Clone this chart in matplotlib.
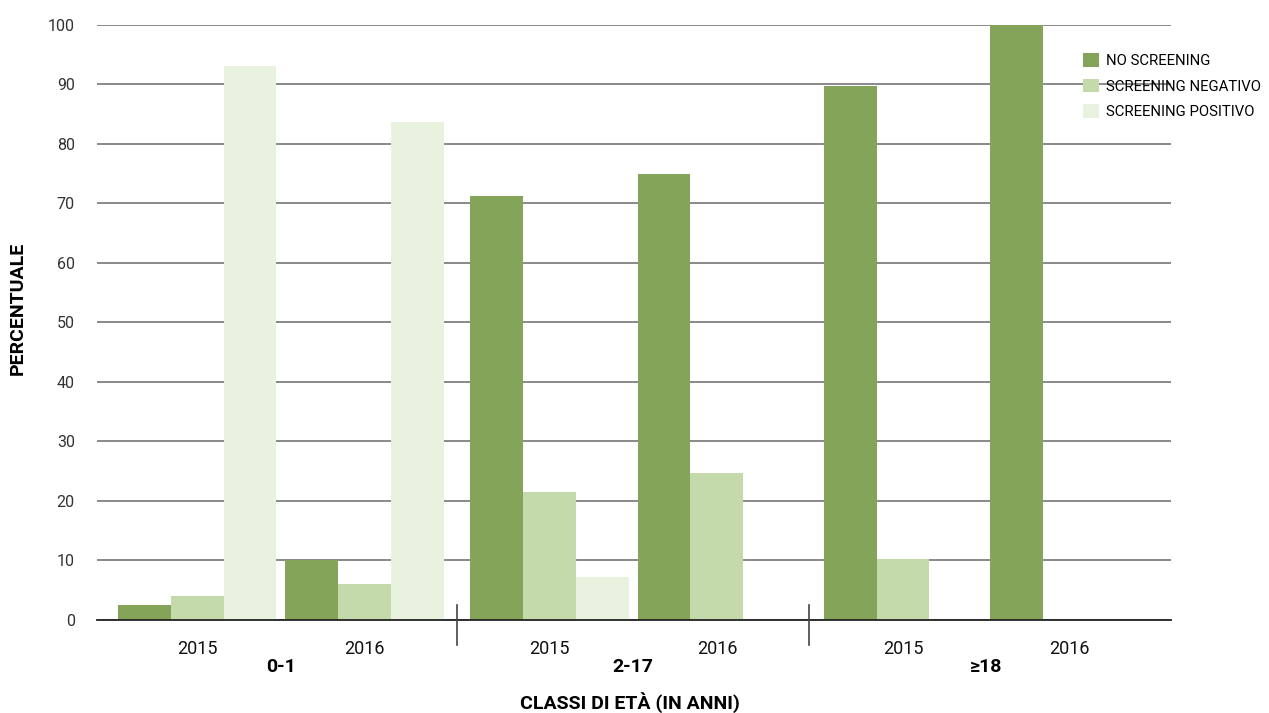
import matplotlib
matplotlib.use('Agg')
import matplotlib.pyplot as plt
from matplotlib.patches import Patch

plt.rcParams['font.family'] = ['Roboto', 'DejaVu Sans']

# dati
classi = ['0-1', '2-17', '≥18']
anni = ['2015', '2016', '2015', '2016', '2015', '2016']
serie = ['NO SCREENING', 'SCREENING NEGATIVO', 'SCREENING POSITIVO']
no_screening = [2.5, 10.0, 71.2, 74.9, 89.7, 100.0]
screening_neg = [4.0, 5.9, 21.4, 24.7, 10.1, 0.0]
screening_pos = [93.1, 83.7, 7.1, 0.0, 0.0, 0.0]

colori = ['#84a45a', '#c4daab', '#e9f2df']

# layout dei gruppi (stile excel)
centri = [0.560, 1.494, 2.529, 3.463, 4.503, 5.431]
w = 0.295

fig = plt.figure(figsize=(12.69, 7.13), dpi=100)
ax = fig.add_axes([97 / 1269, 1 - 619.5 / 713, (1171 - 97) / 1269, (619.5 - 25) / 713])

for k, vals in enumerate([no_screening, screening_neg, screening_pos]):
    xs = [c + (k - 1) * w for c in centri]
    ax.bar(xs, vals, width=w, color=colori[k], zorder=3, linewidth=0)

ax.set_xlim(0, 6)
ax.set_ylim(0, 100)
ax.set_yticks(range(0, 101, 10))
ax.yaxis.grid(True, color='#6a6a6a', linewidth=1.1, zorder=1)
ax.tick_params(axis='y', length=0, pad=16, labelsize=11.5, labelcolor='#333333')
ax.tick_params(axis='x', length=0)
ax.set_xticks(centri)
ax.set_xticklabels(anni, fontsize=13, color='#111111')
ax.tick_params(axis='x', pad=15)
for s in ['top', 'right', 'left']:
    ax.spines[s].set_visible(False)
ax.spines['bottom'].set_color('#222222')
ax.spines['bottom'].set_linewidth(1.3)
ax.spines['bottom'].set_zorder(4)

# separatori tra le classi
for xsep in [2.013, 3.98]:
    ax.plot([xsep, xsep], [2.4, -4.3], color='#444444', linewidth=1.2,
            clip_on=False, zorder=5)

# etichette delle classi
for i, c in enumerate(classi):
    xc = (centri[2 * i] + centri[2 * i + 1]) / 2
    ax.text(xc, -8.0, c, ha='center', va='center', fontsize=14,
            fontweight='bold', transform=ax.transData, clip_on=False)

fig.text(630 / 1269, 1 - 703 / 713, 'CLASSI DI ETÀ (IN ANNI)', ha='center',
         va='center', fontsize=14, fontweight='bold')
fig.text(18 / 1269, 1 - 308 / 713, 'PERCENTUALE', ha='center', va='center',
         rotation=90, fontsize=14, fontweight='bold')

handles = [Patch(facecolor=colori[k], edgecolor='none') for k in range(3)]
fig.legend(handles, serie, loc='upper left', bbox_to_anchor=(1077 / 1269, 1 - 47 / 713),
           frameon=False, fontsize=10.7, handlelength=1.05, handleheight=1.05,
           handletextpad=0.5, labelspacing=0.72, borderaxespad=0)

fig.savefig('out.png', dpi=100)
